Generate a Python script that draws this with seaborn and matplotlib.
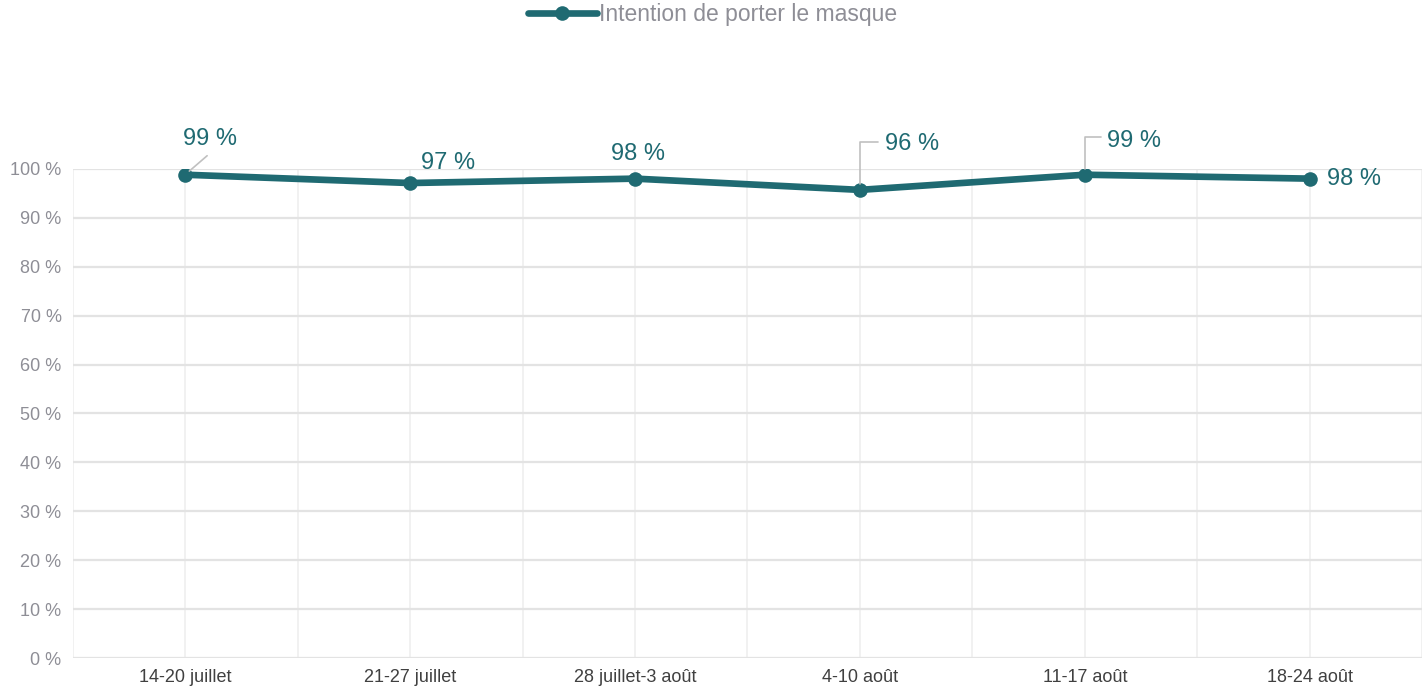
import matplotlib.pyplot as plt
import pandas as pd
import seaborn as sns

# data
semaines = ['14-20 juillet', '21-27 juillet', '28 juillet-3 août',
            '4-10 août', '11-17 août', '18-24 août']
intention = [98.8, 97.1, 98.0, 95.7, 98.8, 98.0]
etiquettes = ['99 %', '97 %', '98 %', '96 %', '99 %', '98 %']
serie = 'Intention de porter le masque'

TEAL = '#1f6a72'
GRIS = '#8e8e96'

df = pd.DataFrame({'Semaine': semaines, 'Valeur': intention, 'Serie': serie})

sns.set_style('white')
plt.rcParams['font.family'] = ['Liberation Sans', 'DejaVu Sans']

fig = plt.figure(figsize=(14.25, 6.92), dpi=100)
ax = fig.add_axes([0.051, 0.049, 0.947, 0.707])

sns.lineplot(data=df, x='Semaine', y='Valeur', hue='Serie', palette=[TEAL],
             marker='o', markersize=10.5, linewidth=4.8, markeredgewidth=0,
             ax=ax, zorder=3)

ax.set_xlim(-0.5, len(semaines) - 0.5)
ax.set_ylim(0, 100)
ax.set_yticks(range(0, 101, 10))
ax.set_yticklabels(['%d %%' % v for v in range(0, 101, 10)])
ax.set_xticks(range(len(semaines)))
ax.set_xticklabels(semaines)
ax.set_xticks([i - 0.5 for i in range(len(semaines) + 1)], minor=True)
ax.tick_params(axis='both', which='both', length=0, labelsize=13,
               labelcolor=GRIS, pad=8)
ax.tick_params(axis='x', labelcolor='#404040')
ax.set_xlabel(None)
ax.set_ylabel(None)

ax.grid(axis='y', color='#e3e3e3', lw=1.6, zorder=0)
ax.grid(axis='x', which='both', color='#f0f0f0', lw=1.3, zorder=0)
for s in ax.spines.values():
    s.set_visible(False)

# data labels (offsets in pixels relative to each point)
decalages = [(25, 36), (38, 20), (3, 25), (52, 46), (49, 34), (44, 0)]
for i, (txt, (dx, dy)) in enumerate(zip(etiquettes, decalages)):
    ax.annotate(txt, xy=(i, intention[i]), xytext=(dx, dy),
                textcoords='offset pixels', ha='center', va='center',
                fontsize=17, color=TEAL, zorder=5)

# leader lines
ax.annotate('', xy=(0, intention[0]), xytext=(22, 19),
            textcoords='offset pixels',
            arrowprops=dict(arrowstyle='-', color='#c0c0c0', lw=1.2,
                            shrinkA=0, shrinkB=4))
for i, (dx, dy) in [(3, (18, 48)), (4, (16, 38))]:
    ax.annotate('', xy=(i, intention[i]), xytext=(dx, dy),
                textcoords='offset pixels',
                arrowprops=dict(arrowstyle='-', color='#c0c0c0', lw=1.2,
                                shrinkA=0, shrinkB=4,
                                connectionstyle='angle,angleA=0,angleB=90,rad=0'))

leg = ax.legend(loc='upper center', bbox_to_anchor=(0.5, 1.012),
                bbox_transform=fig.transFigure, frameon=False, fontsize=16.5,
                handlelength=3.0, handletextpad=0.1, borderaxespad=0.1)
for t in leg.get_texts():
    t.set_color(GRIS)

fig.savefig('out.png', dpi=100)
